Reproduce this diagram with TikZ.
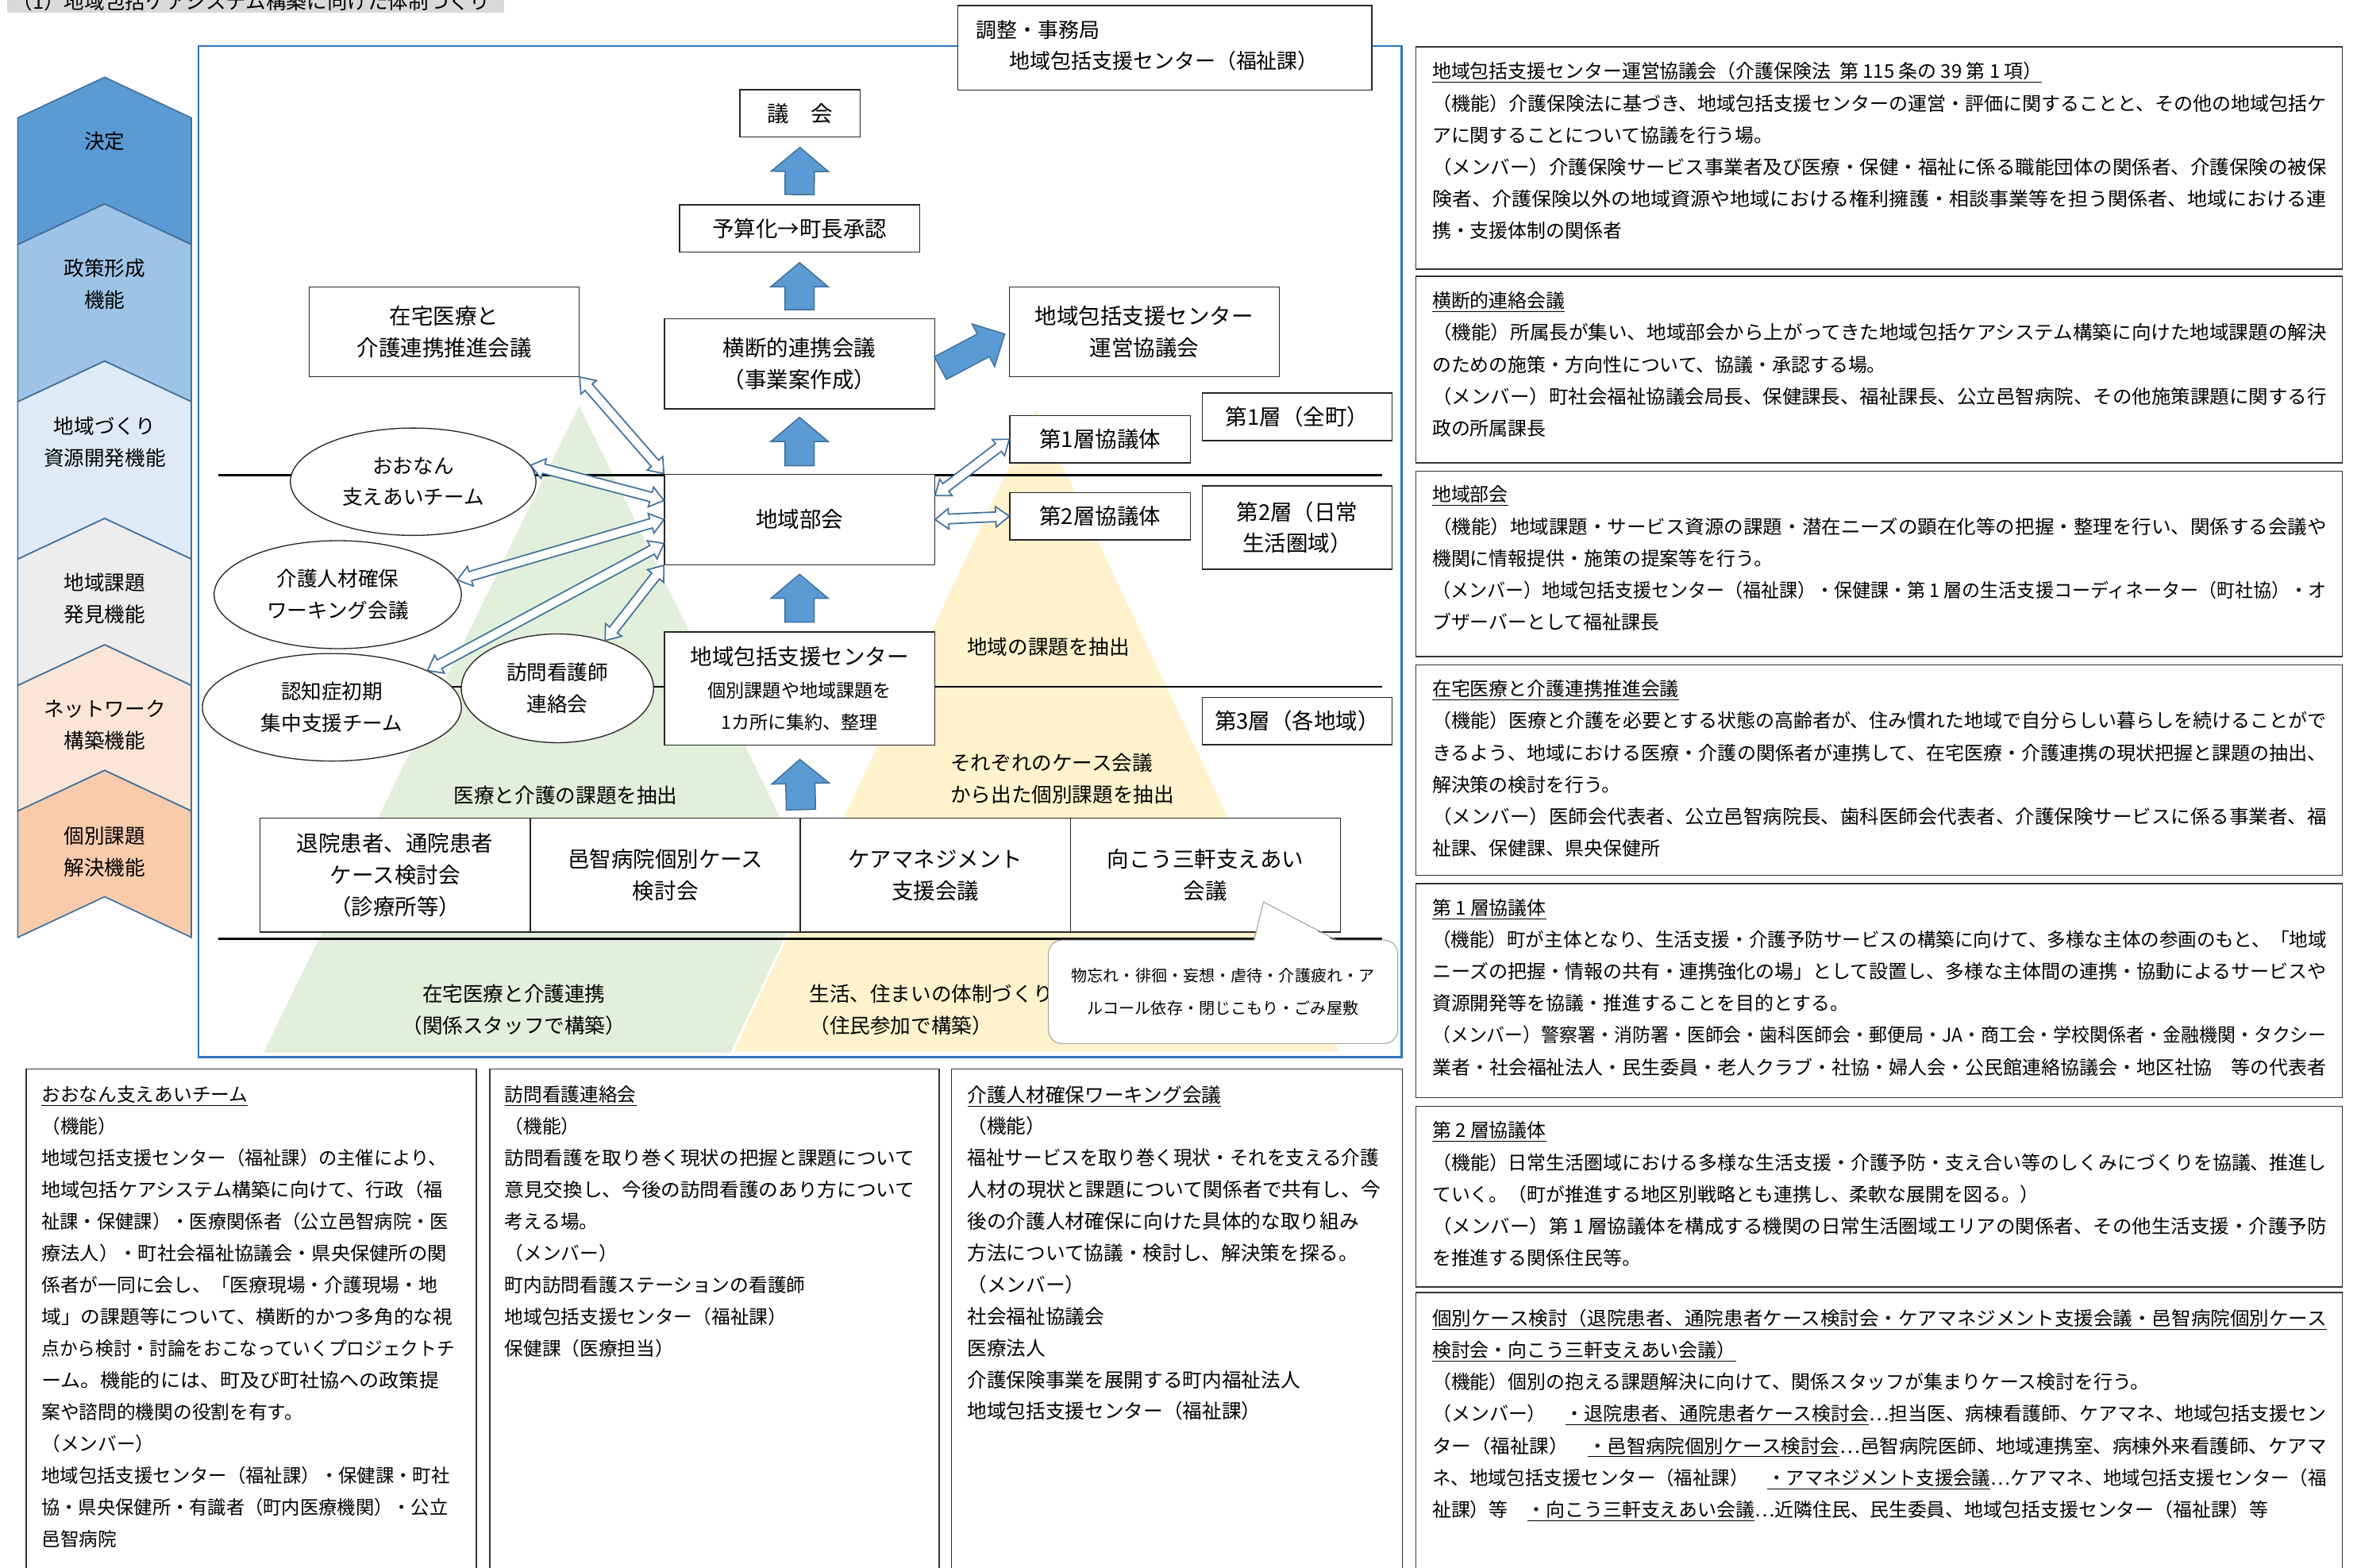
\documentclass[tikz,border=0pt]{standalone}
\usepackage{fontspec}
\setmainfont{Noto Sans CJK JP}
\usepackage{graphicx}
\usetikzlibrary{shapes.geometric,calc}
\definecolor{frameblue}{HTML}{2E75B6}
\definecolor{arrblue}{HTML}{5B9BD5}
\definecolor{arredge}{HTML}{41719C}
\definecolor{chA}{HTML}{5B9BD5}
\definecolor{chB}{HTML}{9DC3E6}
\definecolor{chC}{HTML}{DEEBF7}
\definecolor{chD}{HTML}{EDEDED}
\definecolor{chE}{HTML}{FBE5D6}
\definecolor{chF}{HTML}{F8CBAD}
\definecolor{trigreen}{HTML}{E2EFDA}
\definecolor{triyellow}{HTML}{FFF2CC}
\definecolor{hdrgray}{HTML}{D9D9D9}
\newcommand\fs[2]{\fontsize{#1pt}{#2pt}\selectfont}
\newsavebox\jlbox
\newlength\jlnat
\newlength\jlw
\setlength\jlw{594pt}
\newcommand\jl[2][\jlw]{\sbox\jlbox{#2}\setlength\jlnat{\wd\jlbox}\pgfmathsetmacro\jlr{(#1)/\jlnat}\scalebox{\jlr}[1]{\usebox\jlbox}}
\newcommand\getdir[2]{\path let \p1=(#1), \p2=(#2) in \pgfextra{\pgfmathsetmacro\tmpA{atan2(\y2-\y1,\x2-\x1)}\pgfmathsetmacro\tmpL{veclen(\x2-\x1,\y2-\y1)}\global\let\arAng\tmpA\global\let\arLen\tmpL};}
\newcommand\dblarrow[2]{\getdir{#1}{#2}
  \begin{scope}[shift={(#1)}, rotate=\arAng]
    \draw[dblar] (0,0) -- (9,6.8) -- (9,3.2) -- (\arLen-9,3.2) -- (\arLen-9,6.8) -- (\arLen,0) -- (\arLen-9,-6.8) -- (\arLen-9,-3.2) -- (9,-3.2) -- (9,-6.8) -- cycle;
  \end{scope}}
\newcommand\blockarrow[7]{\getdir{#1}{#2}
  \begin{scope}[shift={(#1)}, rotate=\arAng]
    \draw[blk] (#3,-#5) -- (\arLen-#4-#7,-#5) -- (\arLen-#4-#7,-#6) -- (\arLen-#4,0) -- (\arLen-#4-#7,#6) -- (\arLen-#4-#7,#5) -- (#3,#5) -- cycle;
  \end{scope}}
\newcommand\chev[3]{\filldraw[fill=#1, draw=arredge, line width=0.9] (11.8,#2) -- (69.5,#2-27) -- (127.1,#2) -- (127.1,#3) -- (69.5,#3-27) -- (11.8,#3) -- cycle;}
\newcommand\tdots{⋯}
\tikzset{
 dbox/.style={draw=black!85, line width=0.7, fill=white, align=center, inner sep=0pt, font=\fs{14.5}{21}},
 oval/.style={ellipse, draw=black!85, line width=0.7, fill=white, align=center, inner sep=0pt, font=\fs{13.5}{21}},
 lbl/.style={align=center, inner sep=0pt, font=\fs{13.5}{21}},
 panelbox/.style={draw=black!80, line width=0.8, fill=white, inner sep=0pt, anchor=north west, minimum width=615.3},
 ptext/.style={anchor=north west, align=left, inner sep=0pt, font=\fs{12.6}{21.2}},
 btext/.style={anchor=north west, align=left, inner sep=0pt, font=\fs{12.5}{21.1}},
 blk/.style={fill=arrblue, draw=arredge, line width=0.8},
 dblar/.style={fill=white, draw=arredge, line width=0.9},
 hline/.style={draw=black, line width=1.3},
}
\begin{document}
\begin{tikzpicture}[x=1pt,y=-1pt]
\useasboundingbox (0,0) rectangle (1568,1041);
\fill[white] (0,0) rectangle (1568,1041);
% header
\fill[hdrgray] (5,-10) rectangle (335,8.5);
\node[anchor=base west, inner sep=0pt, font=\fs{13.5}{16}] (hdr) at (8,6) {（1）地域包括ケアシステム構築に向けた体制づくり};
% chevrons
\chev{chA}{78.3}{162.4}
\chev{chB}{162.4}{266.8}
\chev{chC}{266.8}{371.3}
\chev{chD}{371.3}{455.2}
\chev{chE}{455.2}{538.6}
\chev{chF}{538.6}{622.5}
\node[lbl] (c1) at (69.5,94) {決定};
\node[lbl] (c2) at (69.5,188.5) {政策形成\\機能};
\node[lbl] (c3) at (69.5,293.5) {地域づくり\\資源開発機能};
\node[lbl] (c4) at (69.5,397.5) {地域課題\\発見機能};
\node[lbl] (c5) at (69.5,481.5) {ネットワーク\\構築機能};
\node[lbl] (c6) at (69.5,565.5) {個別課題\\解決機能};
% triangles
\fill[trigreen] (384.6,269.4) -- (594.2,699) -- (175,699) -- cycle;
\filldraw[fill=triyellow, draw=white, line width=1.5] (688,270.2) -- (890,699) -- (486,699) -- cycle;
% horizontal lines
\draw[hline] (144.8,315.5) -- (917.8,315.5);
\draw[hline] (144.8,456) -- (917.8,456);
\draw[hline] (144.8,623.4) -- (917.8,623.4);
% frame
\draw[frameblue, line width=1.3] (131.8,30.7) rectangle (930.8,702);
% labels on triangles
\node[lbl] (lblA) at (696.3,429.8) {地域の課題を抽出};
\node[lbl, anchor=west, align=left] (lblB) at (631,517.2) {それぞれのケース会議\\から出た個別課題を抽出};
\node[lbl] (lblC) at (375.7,528.1) {医療と介護の課題を抽出};
\node[lbl] (lblD) at (341.3,670.5) {在宅医療と介護連携\\（関係スタッフで構築）};
\node[lbl, anchor=west, align=left] (lblE) at (537.3,670.5) {生活、住まいの体制づくり\\（住民参加で構築）};
% main boxes
\node[dbox, minimum width=79.8, minimum height=31.4] (gikai) at (531.3,75.3) {議　会};
\node[dbox, minimum width=159.5, minimum height=31.5] (yosan) at (531,151.8) {予算化→町長承認};
\node[dbox, minimum width=179.3, minimum height=59.8] (yokodan) at (531,241.6) {横断的連携会議\\（事業案作成）};
\node[dbox, minimum width=179.3, minimum height=60] (bukai) at (531,345) {地域部会};
\node[dbox, minimum width=179.3, minimum height=75.3, font=\fs{12.2}{21.3}] (houkatsu) at (531,457.3) {{\fs{14.5}{21.3}地域包括支援センター}\\個別課題や地域課題を\\1カ所に集約、整理};
\node[dbox, minimum width=179.3, minimum height=59.3] (zaitaku) at (295,220.4) {在宅医療と\\介護連携推進会議};
\node[dbox, minimum width=179.3, minimum height=59.3] (uneikyo) at (759.9,220.4) {地域包括支援センター\\運営協議会};
\node[dbox, minimum width=119.9, minimum height=31.4] (kyo1) at (730.6,291.7) {第1層協議体};
\node[dbox, minimum width=119.9, minimum height=31.5] (kyo2) at (730.6,342.8) {第2層協議体};
\node[dbox, minimum width=126, minimum height=31.5] (zen1) at (861.5,276.8) {第1層（全町）};
\node[dbox, minimum width=126, minimum height=55.3] (zen2) at (861.5,350.4) {第2層（日常\\生活圏域）};
\node[dbox, minimum width=126, minimum height=31.5] (zen3) at (861.5,478.8) {第3層（各地域）};
% ellipses
\node[oval, minimum width=163.1, minimum height=71.3] (oonan) at (274.4,319.9) {おおなん\\支えあいチーム};
\node[oval, minimum width=164.2, minimum height=71.7] (kaigo) at (224.3,394.9) {介護人材確保\\ワーキング会議};
\node[oval, minimum width=172, minimum height=71.4] (ninchi) at (220.4,469.7) {認知症初期\\集中支援チーム};
\node[oval, minimum width=127.7, minimum height=72.2] (houmon) at (370.2,457.1) {訪問看護師\\連絡会};
% bottom row
\node[dbox, minimum width=179.5, minimum height=75.6] (case1) at (262.4,581.2) {退院患者、通院患者\\ケース検討会\\（診療所等）};
\node[dbox, minimum width=179.5, minimum height=75.6] (case2) at (441.95,581.2) {邑智病院個別ケース\\検討会};
\node[dbox, minimum width=179.5, minimum height=75.6] (case3) at (621.25,581.2) {ケアマネジメント\\支援会議};
\node[dbox, minimum width=179.5, minimum height=75.6] (case4) at (800.55,581.2) {向こう三軒支えあい\\会議};
% block arrows
\blockarrow{yosan.north}{gikai.south}{6.5}{6.5}{9.7}{19}{16}
\blockarrow{yokodan.north}{yosan.south}{5.7}{6.5}{9.7}{19}{16}
\blockarrow{bukai.north}{yokodan.south}{5.4}{5.3}{9.7}{19}{16}
\blockarrow{houkatsu.north}{bukai.south}{6.1}{6}{9.7}{19}{16}
\blockarrow{case2.north east}{houkatsu.south}{5.4}{9}{9.7}{19}{16}
\blockarrow{yokodan.-3}{uneikyo.west}{4}{3}{8.5}{16}{16}
% double arrows
\dblarrow{zaitaku.south east}{bukai.north west}
\dblarrow{oonan.8}{bukai.172}
\dblarrow{kaigo.7}{bukai.west}
\dblarrow{ninchi.21}{bukai.190}
\dblarrow{houmon.45}{bukai.south west}
\dblarrow{bukai.10}{kyo1.west}
\dblarrow{bukai.east}{kyo2.west}
% callout
\node[draw=gray!70, line width=0.6, fill=white, rounded corners=9, minimum width=231.9, minimum height=68.7, inner sep=0pt, align=center, font=\fs{10.6}{21.4}] (callout) at (812.25,658.65) {物忘れ・徘徊・妄想・虐待・介護疲れ・ア\\ルコール依存・閉じこもり・ごみ屋敷};
\fill[white] (833,625.2) -- (839.1,599) -- (887.4,625.2) -- cycle;
\draw[gray!70, line width=0.6] (832.8,624.3) -- (839.1,599) -- (887.6,624.3);
% coordination box
\node[dbox, minimum width=275, minimum height=56] (chousei) at (773.5,31.7) {};
\node[anchor=west, align=left, inner sep=0pt, font=\fs{13.7}{20.3}] (chouseiT) at (648,30.2) {調整・事務局\\\hspace*{22pt}地域包括支援センター（福祉課）};
% right panels
\node[panelbox, minimum height=147.5] (p1) at (940,30.7) {};
\node[ptext] (p1t) at (951,41.1) {\underline{地域包括支援センター運営協議会（介護保険法\hspace{6pt}第 115 条の 39 第 1 項）}\\
\jl{（機能）介護保険法に基づき、地域包括支援センターの運営・評価に関することと、その他の地域包括ケ}\\
アに関することについて協議を行う場。\\
\jl{（メンバー）介護保険サービス事業者及び医療・保健・福祉に係る職能団体の関係者、介護保険の被保}\\
\jl{険者、介護保険以外の地域資源や地域における権利擁護・相談事業等を担う関係者、地域における連}\\
携・支援体制の関係者};
\node[panelbox, minimum height=123.9] (p2) at (940,183.2) {};
\node[ptext] (p2t) at (951,193.6) {\underline{横断的連絡会議}\\
\jl{（機能）所属長が集い、地域部会から上がってきた地域包括ケアシステム構築に向けた地域課題の解決}\\
のための施策・方向性について、協議・承認する場。\\
\jl{（メンバー）町社会福祉協議会局長、保健課長、福祉課長、公立邑智病院、その他施策課題に関する行}\\
政の所属課長};
\node[panelbox, minimum height=122.9] (p3) at (940,312.6) {};
\node[ptext] (p3t) at (951,322.4) {\underline{地域部会}\\
\jl{（機能）地域課題・サービス資源の課題・潜在ニーズの顕在化等の把握・整理を行い、関係する会議や}\\
機関に情報提供・施策の提案等を行う。\\
\jl{（メンバー）地域包括支援センター（福祉課）・保健課・第 1 層の生活支援コーディネーター（町社協）・オ}\\
ブザーバーとして福祉課長};
\node[panelbox, minimum height=139.7] (p4) at (940,441.1) {};
\node[ptext] (p4t) at (951,451.4) {\underline{在宅医療と介護連携推進会議}\\
\jl{（機能）医療と介護を必要とする状態の高齢者が、住み慣れた地域で自分らしい暮らしを続けることがで}\\
\jl{きるよう、地域における医療・介護の関係者が連携して、在宅医療・介護連携の現状把握と課題の抽出、}\\
解決策の検討を行う。\\
\jl{（メンバー）医師会代表者、公立邑智病院長、歯科医師会代表者、介護保険サービスに係る事業者、福}\\
祉課、保健課、県央保健所};
\node[panelbox, minimum height=142] (p5) at (940,586.5) {};
\node[ptext] (p5t) at (951,596.6) {\underline{第 1 層協議体}\\
\jl{（機能）町が主体となり、生活支援・介護予防サービスの構築に向けて、多様な主体の参画のもと、「地域}\\
\jl{ニーズの把握・情報の共有・連携強化の場」として設置し、多様な主体間の連携・協動によるサービスや}\\
資源開発等を協議・推進することを目的とする。\\
\jl{（メンバー）警察署・消防署・医師会・歯科医師会・郵便局・JA・商工会・学校関係者・金融機関・タクシー}\\
\jl{業者・社会福祉法人・民生委員・老人クラブ・社協・婦人会・公民館連絡協議会・地区社協　等の代表者}};
\node[panelbox, minimum height=119.8] (p6) at (940,734.4) {};
\node[ptext] (p6t) at (951,744.6) {\underline{第 2 層協議体}\\
\jl{（機能）日常生活圏域における多様な生活支援・介護予防・支え合い等のしくみにづくりを協議、推進し}\\
ていく。（町が推進する地区別戦略とも連携し、柔軟な展開を図る。）\\
\jl{（メンバー）第 1 層協議体を構成する機関の日常生活圏域エリアの関係者、その他生活支援・介護予防}\\
を推進する関係住民等。};
\node[panelbox, minimum height=202] (p7) at (940,858) {};
\node[ptext] (p7t) at (951,869.1) {\jl{\underline{個別ケース検討（退院患者、通院患者ケース検討会・ケアマネジメント支援会議・邑智病院個別ケース}}\\
\underline{検討会・向こう三軒支えあい会議）}\\
（機能）個別の抱える課題解決に向けて、関係スタッフが集まりケース検討を行う。\\
\jl{（メンバー）　\underline{・退院患者、通院患者ケース検討会}\tdots 担当医、病棟看護師、ケアマネ、地域包括支援セン}\\
\jl{ター（福祉課）　\underline{・邑智病院個別ケース検討会}\tdots 邑智病院医師、地域連携室、病棟外来看護師、ケアマ}\\
\jl{ネ、地域包括支援センター（福祉課）　\underline{・アマネジメント支援会議}\tdots ケアマネ、地域包括支援センター（福}\\
祉課）等　\underline{・向こう三軒支えあい会議}\tdots 近隣住民、民生委員、地域包括支援センター（福祉課）等};
% bottom-left panels
\node[panelbox, minimum width=299.1, minimum height=350.4] (b1) at (16.9,709.6) {};
\node[btext] (b1t) at (27.4,720.9) {\underline{おおなん支えあいチーム}\\
（機能）\\
\jl[269.2pt]{地域包括支援センター（福祉課）の主催により、}\\
\jl[266.3pt]{地域包括ケアシステム構築に向けて、行政（福}\\
\jl[270.4pt]{祉課・保健課）・医療関係者（公立邑智病院・医}\\
\jl[269.2pt]{療法人）・町社会福祉協議会・県央保健所の関}\\
\jl[263pt]{係者が一同に会し、「医療現場・介護現場・地}\\
\jl[273.2pt]{域」の課題等について、横断的かつ多角的な視}\\
\jl[274.4pt]{点から検討・討論をおこなっていくプロジェクトチ}\\
\jl[264pt]{ーム。機能的には、町及び町社協への政策提}\\
案や諮問的機関の役割を有す。\\
（メンバー）\\
\jl[271.2pt]{地域包括支援センター（福祉課）・保健課・町社}\\
\jl[270pt]{協・県央保健所・有識者（町内医療機関）・公立}\\
邑智病院};
\node[panelbox, minimum width=298.6, minimum height=350.4] (b2) at (324.8,709.6) {};
\node[btext] (b2t) at (334.9,720.9) {\underline{訪問看護連絡会}\\
（機能）\\
\jl[272.4pt]{訪問看護を取り巻く現状の把握と課題について}\\
\jl[272.4pt]{意見交換し、今後の訪問看護のあり方について}\\
考える場。\\
（メンバー）\\
町内訪問看護ステーションの看護師\\
地域包括支援センター（福祉課）\\
保健課（医療担当）};
\node[panelbox, minimum width=299.3, minimum height=350.4] (b3) at (631.6,709.6) {};
\node[btext, font=\fs{13}{21.03}] (b3t) at (642.3,720.7) {\underline{介護人材確保ワーキング会議}\\
（機能）\\
\jl[273.4pt]{福祉サービスを取り巻く現状・それを支える介護}\\
\jl[274.4pt]{人材の現状と課題について関係者で共有し、今}\\
後の介護人材確保に向けた具体的な取り組み\\
方法について協議・検討し、解決策を探る。\\
（メンバー）\\
社会福祉協議会\\
医療法人\\
介護保険事業を展開する町内福祉法人\\
地域包括支援センター（福祉課）};
\end{tikzpicture}
\end{document}
